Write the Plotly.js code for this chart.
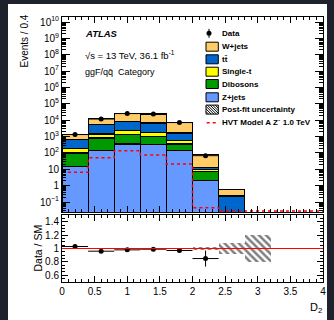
<!DOCTYPE html>
<html><head><meta charset="utf-8">
<script src="https://cdn.plot.ly/plotly-3.0.1.min.js"></script>
<style>
html,body{margin:0;padding:0;background:#1e222c;width:334px;height:320px;overflow:hidden;}
#plot{position:absolute;left:8px;top:4px;width:319px;height:316px;background:#fff;}
</style></head><body><div id="plot"></div>
<script>
// ---- data ----
const binEdges   = [0, 0.4, 0.8, 1.2, 1.6, 2.0, 2.4, 2.8, 3.2, 3.6, 4.0];
const binCenters = [0.2, 0.6, 1.0, 1.4, 1.8, 2.2, 2.6, 3.0, 3.4, 3.8];
const zjets     = [15, 145, 350, 340, 137, 2.0, 0, 0, 0, 0];
const dibosons  = [84, 675, 940, 700, 213, 5.3, 0, 0, 0, 0];
const singleTop = [82, 615, 1000, 780, 210, 2.4, 0, 0, 0, 0];
const ttbar     = [464, 3865, 6270, 4920, 1090, 3.5, 0.23, 0, 0, 0];
const wjets     = [645, 7000, 17440, 17260, 5750, 66.8, 0.37, 0, 0, 0];
const dataVals  = [1330, 11800, 25500, 23800, 7180, 68, null, null, null, null];
const dataErr   = [36, 109, 160, 154, 85, 8.2, 0, 0, 0, 0];
const hvtZprime = [6.5, 50, 137, 76, 21, 0.045, 0.028, 0.028, 0.028, 0.028];
const ratioVals = [1.03, 0.96, 0.98, 0.99, 0.97, 0.85, null, null, null, null];
const ratioErr  = [0.025, 0.01, 0.007, 0.007, 0.012, 0.12, 0, 0, 0, 0];
const systRel   = [0.01, 0.01, 0.01, 0.01, 0.012, 0.015, 0.08, 0.2, null, null];
const xTickVals = [0, 0.5, 1, 1.5, 2, 2.5, 3, 3.5, 4];
const xTickText = ['0', '0.5', '1', '1.5', '2', '2.5', '3', '3.5', '4'];
const yTickVals = [1e-1, 1, 10, 1e2, 1e3, 1e4, 1e5, 1e6, 1e7, 1e8, 1e9, 1e10];
const yTickText = ['10<sup>\u22121</sup>', '1', '10', '10<sup>2</sup>', '10<sup>3</sup>', '10<sup>4</sup>', '10<sup>5</sup>',
                   '10<sup>6</sup>', '10<sup>7</sup>', '10<sup>8</sup>', '10<sup>9</sup>', '10<sup>10</sup>'];
const rTickVals = [0.6, 0.8, 1, 1.2, 1.4];
const rTickText = ['0.6', '0.8', '1', '1.2', '1.4'];

const legendNames  = ['Data', 'W+jets', 'tt\u0304', 'Single-t', 'Dibosons', 'Z+jets', 'Post-fit uncertainty', "HVT Model A Z\u00b4 1.0 TeV"];
const colW = '#ffcc66', colTT = '#0066cc', colST = '#ffff00', colDB = '#009900', colZ = '#6699ff';

const FONT = 'Liberation Sans, Arial, Helvetica, sans-serif';

function stackBar(vals, color) {
  return {type: 'bar', x: binCenters, y: vals, width: 0.4, xaxis: 'x', yaxis: 'y',
    marker: {color: color, line: {color: 'black', width: 1.2}}, showlegend: false, hoverinfo: 'skip'};
}
const traces = [
  stackBar(zjets, colZ), stackBar(dibosons, colDB), stackBar(singleTop, colST),
  stackBar(ttbar, colTT), stackBar(wjets, colW),
  {type: 'scatter', mode: 'lines', x: binEdges, y: hvtZprime.concat([hvtZprime[hvtZprime.length - 1]]),
   line: {shape: 'hv', dash: 'dot', color: '#ff0000', width: 1.5}, xaxis: 'x', yaxis: 'y', showlegend: false, hoverinfo: 'skip'},
  {type: 'scatter', mode: 'markers', x: binCenters, y: dataVals, xaxis: 'x', yaxis: 'y',
   marker: {color: 'black', size: 5},
   error_y: {type: 'data', array: dataErr, color: 'black', thickness: 1, width: 0},
   error_x: {type: 'constant', value: 0.2, color: 'black', thickness: 1, width: 0},
   showlegend: false, hoverinfo: 'skip'},
  // ratio panel
  {type: 'bar', x: binCenters, y: systRel.map(e => e == null ? null : 2 * e), base: systRel.map(e => e == null ? null : 1 - e),
   width: 0.4, xaxis: 'x2', yaxis: 'y2',
   marker: {color: 'rgba(0,0,0,0)', line: {width: 0},
     pattern: {shape: '\\', fgcolor: '#000', bgcolor: 'rgba(0,0,0,0)', size: 5, solidity: 0.5, fillmode: 'overlay'}},
   showlegend: false, hoverinfo: 'skip'},
  {type: 'scatter', mode: 'markers', x: binCenters, y: ratioVals, xaxis: 'x2', yaxis: 'y2',
   marker: {color: 'black', size: 5},
   error_y: {type: 'data', array: ratioErr, color: 'black', thickness: 1, width: 0},
   error_x: {type: 'constant', value: 0.2, color: 'black', thickness: 1, width: 0},
   showlegend: false, hoverinfo: 'skip'}
];

// pixel (image) -> paper helpers
const PX0 = 62, PW = 261, PY0 = 282, PH = 265;
const px = x => (x - PX0) / PW;
const py = y => (PY0 - y) / PH;

const shapes = [
  {type: 'line', xref: 'x2', yref: 'y2', x0: 0, x1: 4, y0: 1, y1: 1, line: {color: '#ff0000', width: 1.2}}
];
const annotations = [];

// legend (manual, ROOT style)
const legRows = [33.3, 46.7, 59.3, 71.7, 84, 97.3, 109.6, 122.7];
const boxX0 = 206, boxX1 = 218.3, boxH = 9;
const boxCols = [null, colW, colTT, colST, colDB, colZ];
legRows.forEach((yy, i) => {
  annotations.push({xref: 'paper', yref: 'paper', x: px(219.5), y: py(yy), xanchor: 'left', yanchor: 'middle',
    text: '<b>' + legendNames[i] + '</b>', showarrow: false, font: {family: FONT, size: 8, color: 'black'}});
  if (i >= 1 && i <= 5) {
    shapes.push({type: 'rect', xref: 'paper', yref: 'paper', x0: px(boxX0), x1: px(boxX1), y0: py(yy + boxH / 2), y1: py(yy - boxH / 2),
      fillcolor: boxCols[i], line: {color: 'black', width: 1}});
  }
});
// data legend marker
shapes.push({type: 'line', xref: 'paper', yref: 'paper', x0: px(209), x1: px(209), y0: py(legRows[0] + 4.5), y1: py(legRows[0] - 4.5), line: {color: 'black', width: 1}});
shapes.push({type: 'circle', xref: 'paper', yref: 'paper', xsizemode: 'pixel', ysizemode: 'pixel',
  xanchor: px(209), yanchor: py(legRows[0]), x0: -2.5, x1: 2.5, y0: -2.5, y1: 2.5, fillcolor: 'black', line: {color: 'black', width: 0}});
// hatched legend box
{
  const yy = legRows[6], top = yy - boxH / 2, w = boxX1 - boxX0;
  shapes.push({type: 'rect', xref: 'paper', yref: 'paper', x0: px(boxX0), x1: px(boxX1), y0: py(yy + boxH / 2), y1: py(top),
    fillcolor: 'white', line: {color: 'black', width: 1}});
  for (let k = -9; k < w; k += 2.6) {
    const t0 = Math.max(0, -k), t1 = Math.min(boxH, w - k);
    if (t1 <= t0) continue;
    shapes.push({type: 'line', xref: 'paper', yref: 'paper',
      x0: px(boxX0 + k + t0), y0: py(top + t0), x1: px(boxX0 + k + t1), y1: py(top + t1),
      line: {color: 'black', width: 1}});
  }
}
// HVT legend line
shapes.push({type: 'line', xref: 'paper', yref: 'paper', x0: px(206.7), x1: px(218.3), y0: py(legRows[7]), y1: py(legRows[7]),
  line: {color: '#ff0000', width: 1.5, dash: 'dot'}});

// labels
annotations.push({xref: 'paper', yref: 'paper', x: px(82.5), y: py(34), xanchor: 'left', yanchor: 'middle',
  text: '<b><i>ATLAS</i></b>', showarrow: false, font: {family: FONT, size: 9.5, color: 'black'}});
annotations.push({xref: 'paper', yref: 'paper', x: px(82.5), y: py(55.5), xanchor: 'left', yanchor: 'middle',
  text: '\u221as = 13 TeV, 36.1 fb<sup>-1</sup>', showarrow: false, font: {family: FONT, size: 9.5, color: 'black'}});
annotations.push({xref: 'paper', yref: 'paper', x: px(82.5), y: py(72), xanchor: 'left', yanchor: 'middle',
  text: 'ggF/qq\u0304\u00a0\u00a0Category', showarrow: false, font: {family: FONT, size: 9, color: 'black'}});
annotations.push({xref: 'paper', yref: 'paper', x: px(24), y: py(13), xanchor: 'center', yanchor: 'top', textangle: -90,
  text: 'Events / 0.4', showarrow: false, font: {family: FONT, size: 10, color: 'black'}});
annotations.push({xref: 'paper', yref: 'paper', x: px(37), y: py(248.5), xanchor: 'center', yanchor: 'middle', textangle: -90,
  text: 'Data / SM', showarrow: false, font: {family: FONT, size: 10.5, color: 'black'}});
annotations.push({xref: 'paper', yref: 'paper', x: px(324), y: py(308), xanchor: 'right', yanchor: 'middle',
  text: 'D<sub>2</sub>', showarrow: false, font: {family: FONT, size: 11, color: 'black'}});

const axCommon = {showline: true, linecolor: 'black', linewidth: 1, mirror: 'allticks', ticks: 'inside',
  tickcolor: 'black', tickwidth: 1, showgrid: false, zeroline: false, tickfont: {family: FONT, size: 10, color: 'black'}};

const layout = {
  width: 319, height: 316,
  margin: {l: 54, r: 4, t: 13, b: 38},
  paper_bgcolor: 'white', plot_bgcolor: 'white',
  barmode: 'stack', bargap: 0, showlegend: false,
  font: {family: FONT, color: 'black'},
  xaxis: Object.assign({}, axCommon, {domain: [0, 1], anchor: 'y', range: [0, 4], tickvals: xTickVals, ticktext: xTickText,
    showticklabels: false, ticklen: 6, minor: {dtick: 0.1, ticks: 'inside', ticklen: 3, tickcolor: 'black', showgrid: false}}),
  yaxis: Object.assign({}, axCommon, {domain: [0.2642, 1], anchor: 'x', type: 'log', range: [-1.61, 10.31],
    tickmode: 'array', tickvals: yTickVals, ticktext: yTickText,
    ticklen: 8, minor: {dtick: 'D1', ticks: 'inside', ticklen: 4, tickcolor: 'black', showgrid: false}}),
  xaxis2: Object.assign({}, axCommon, {domain: [0, 1], anchor: 'y2', range: [0, 4], tickvals: xTickVals, ticktext: xTickText,
    ticklen: 6, minor: {dtick: 0.1, ticks: 'inside', ticklen: 3, tickcolor: 'black', showgrid: false}}),
  yaxis2: Object.assign({}, axCommon, {domain: [0, 0.2528], anchor: 'x2', range: [0.5, 1.5], tickvals: rTickVals, ticktext: rTickText,
    ticklen: 6, minor: {dtick: 0.05, tick0: 0.5, ticks: 'inside', ticklen: 3, tickcolor: 'black', showgrid: false}}),
  shapes: shapes, annotations: annotations
};

Plotly.newPlot('plot', traces, layout, {staticPlot: true, displayModeBar: false});
</script></body></html>
